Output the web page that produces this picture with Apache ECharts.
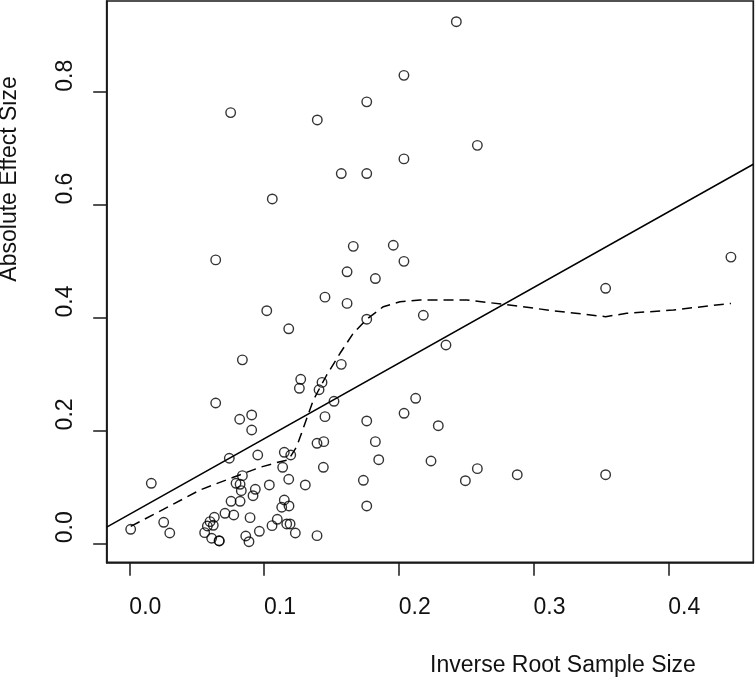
<!DOCTYPE html>
<html>
<head>
<meta charset="utf-8">
<script src="https://cdn.jsdelivr.net/npm/echarts@6/dist/echarts.min.js"></script>
<style>
html,body{margin:0;padding:0;background:#fff;}
#chart{width:756px;height:678px;}
</style>
</head>
<body>
<div id="chart"></div>
<script>
// Scatter points: inverse root sample size (x) vs absolute effect size (y)
const xVals = [0.2038,0.1762,0.0752,0.1395,0.2038,0.1573,0.1762,0.1061,0.1662,0.1959,
  0.0641,0.2038,0.1616,0.1826,0.2427,0.2583,0.4465,0.1452,0.1616,0.1020,
  0.2182,0.1762,0.1183,0.0839,0.1573,0.1272,0.1262,0.1430,0.1408,0.0641,
  0.1519,0.2125,0.2039,0.0908,0.0819,0.1452,0.1762,0.0908,0.1393,0.1443,
  0.1826,0.0742,0.0953,0.1150,0.1198,0.1851,0.2239,0.0163,0.1138,0.1440,
  0.0839,0.0792,0.0822,0.0831,0.0935,0.0918,0.1039,0.1183,0.1306,0.1737,
  0.1762,0.0755,0.0822,0.1150,0.1131,0.1185,0.0710,0.0775,0.0896,0.0631,
  0.0599,0.0579,0.0623,0.0559,0.0611,0.0666,0.0668,0.0864,0.0888,0.0965,
  0.1059,0.1098,0.1168,0.1193,0.1232,0.1393,0.0010,0.0255,0.0300,0.3535,
  0.2350,0.2293,0.2583,0.2494,0.2879,0.3535];
const yVals = [0.829,0.782,0.763,0.750,0.681,0.655,0.655,0.610,0.526,0.528,
  0.502,0.4995,0.481,0.469,0.924,0.705,0.507,0.436,0.425,0.412,
  0.404,0.397,0.380,0.325,0.317,0.2905,0.2746,0.285,0.272,0.2485,
  0.2515,0.2568,0.2303,0.2273,0.2197,0.2243,0.2167,0.2007,0.1771,0.180,
  0.180,0.1506,0.1564,0.1612,0.1564,0.1481,0.1458,0.1063,0.1346,0.1346,
  0.1198,0.1063,0.1045,0.0932,0.0956,0.0843,0.1033,0.1134,0.1033,0.1116,
  0.0661,0.0744,0.0744,0.0767,0.0638,0.0661,0.0531,0.0501,0.0454,0.0461,
  0.0383,0.0306,0.0319,0.0188,0.0089,0.0046,0.0040,0.0129,0.0028,0.0212,
  0.0312,0.0425,0.0342,0.0342,0.0182,0.0135,0.0248,0.0372,0.0182,0.4517,
  0.3513,0.2083,0.1322,0.1109,0.1215,0.1215];

// Linear fit (solid line)
const regIntercept = [0.0512];
const regSlope = [1.3395];

// Smoothed trend (dashed line)
const loessX = [0.001,0.0252,0.0525,0.0772,0.0970,0.1118,0.1180,0.1242,0.1304,0.1366,
  0.1465,0.1564,0.1662,0.1762,0.1885,0.2009,0.2157,0.2504,0.2776,0.3147,
  0.3535,0.3691,0.4037,0.4465];
const loessY = [0.030,0.060,0.0944,0.117,0.1346,0.1446,0.1476,0.1711,0.2126,0.2539,
  0.2981,0.3366,0.372,0.3968,0.4191,0.428,0.431,0.431,0.4234,0.412,
  0.4014,0.4074,0.4133,0.4250];

// Axis ticks
const xTicks = [0.0,0.1,0.2,0.3,0.4];
const yTicks = [0.0,0.2,0.4,0.6,0.8];
const xRange = [-0.0168, 0.4631];
const yRange = [-0.0337, 0.9607];

const scatterData = xVals.map((x,i)=>[x,yVals[i]]);
const regData = xRange.map(x=>[x, regIntercept[0] + regSlope[0]*x]);
const loessData = loessX.map((x,i)=>[x,loessY[i]]);

const FONT = 'Liberation Sans, Arial, Helvetica, sans-serif';
const INK = '#1a1a1a';
const chart = echarts.init(document.getElementById('chart'), null, {renderer:'canvas'});
chart.setOption({
  animation: false,
  backgroundColor: '#fff',
  grid: {left: 106.7, right: 2.7, top: 1, bottom: 115.7, show: true, containLabel: false,
         outerBoundsMode: 'none',
         borderColor: INK, borderWidth: 1.7, backgroundColor: 'transparent'},
  xAxis: {
    type: 'value', min: xRange[0], max: xRange[1],
    name: 'Inverse Root Sample Size', nameLocation: 'middle', nameGap: 92,
    nameTextStyle: {fontFamily: FONT, fontSize: 23, color: '#111', align: 'left'},
    axisLine: {show: true, onZero: false, lineStyle: {color: INK, width: 1.7}},
    splitLine: {show: false},
    axisTick: {show: true, inside: false, length: 13.5, customValues: xTicks, lineStyle: {color: INK, width: 1.5}},
    axisLabel: {show: true, customValues: xTicks, margin: 34, align: 'left', fontFamily: FONT, fontSize: 23, color: '#111',
                formatter: v => v.toFixed(1)}
  },
  yAxis: {
    type: 'value', min: yRange[0], max: yRange[1],
    name: 'Absolute Effect Size', nameLocation: 'middle', nameGap: 86,
    nameTextStyle: {fontFamily: FONT, fontSize: 23, color: '#111', align: 'left'},
    axisLine: {show: true, onZero: false, lineStyle: {color: INK, width: 1.7}},
    splitLine: {show: false},
    axisTick: {show: true, inside: false, length: 13.5, customValues: yTicks, lineStyle: {color: INK, width: 1.5}},
    axisLabel: {show: true, customValues: yTicks, rotate: 90, margin: 30, align: 'left', verticalAlign: 'bottom',
                fontFamily: FONT, fontSize: 23, color: '#111', formatter: v => v.toFixed(1)}
  },
  series: [
    {type: 'scatter', data: scatterData, symbol: 'circle', symbolSize: 9.5,
     itemStyle: {color: 'rgba(0,0,0,0)', borderColor: '#000', borderWidth: 1.4},
     emphasis: {disabled: true}, z: 3},
    {type: 'line', data: regData, showSymbol: false, symbol: 'none', smooth: false,
     lineStyle: {color: '#000', width: 1.5, type: 'solid'}, z: 2},
    {type: 'line', data: loessData, showSymbol: false, symbol: 'none', smooth: false,
     lineStyle: {color: '#000', width: 1.5, type: [10, 6]}, z: 2}
  ]
});
</script>
</body>
</html>
